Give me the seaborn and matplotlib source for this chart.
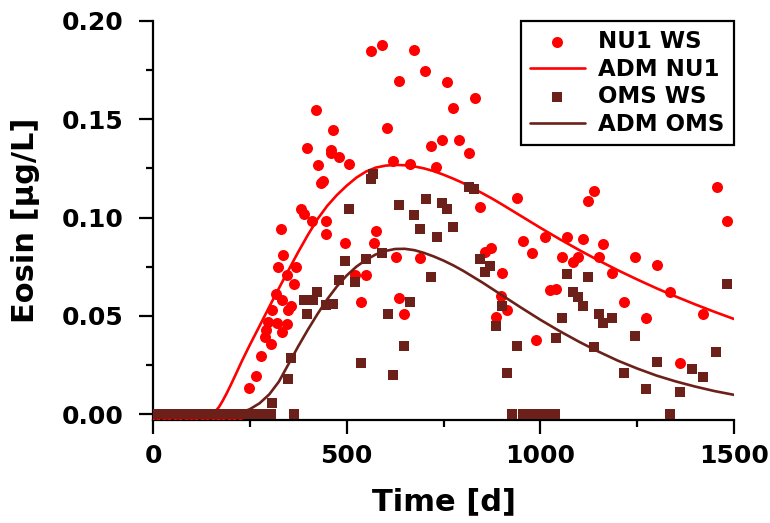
import matplotlib
matplotlib.use("Agg")
import matplotlib.pyplot as plt
import seaborn as sns
import pandas as pd
from matplotlib.ticker import MultipleLocator, FormatStrFormatter

# ---------------- data ----------------
nu1_days = [0, 14, 28, 42, 56, 70, 84, 98, 112, 126, 140, 154, 168, 182, 196, 210, 224,
            564, 591, 675, 635, 703, 758, 831, 774, 789, 817, 420, 466, 398, 460, 459, 480,
            507, 425, 605, 620, 663, 719, 746, 731, 434, 440, 381, 390, 411, 447, 447, 330,
            496, 577, 571, 844, 941, 1138, 1124, 1455, 1483, 335, 322, 368, 345, 364, 317,
            332, 306, 355, 349, 297, 319, 346, 293, 332, 289, 304, 278, 265, 248, 627, 690,
            522, 549, 536, 635, 648, 857, 873, 956, 978, 1012, 1068, 1109, 1161, 1055, 1085,
            1096, 1152, 1245, 1300, 1186, 901, 1025, 1041, 899, 915, 885, 1217, 1273, 1335,
            1421, 990, 1360]
nu1_vals = [0, 0, 0, 0, 0, 0, 0, 0, 0, 0, 0, 0, 0, 0, 0, 0, 0,
            0.1849, 0.1880, 0.1850, 0.1697, 0.1747, 0.1689, 0.1606, 0.1556, 0.1394, 0.1326,
            0.1546, 0.1446, 0.1355, 0.1346, 0.1326, 0.1307, 0.1275, 0.1265, 0.1456, 0.1287,
            0.1275, 0.1365, 0.1397, 0.1256, 0.1175, 0.1185, 0.1045, 0.1017, 0.0983, 0.0983,
            0.0914, 0.0941, 0.0871, 0.0932, 0.0871, 0.1052, 0.1102, 0.1134, 0.1082, 0.1155,
            0.0982, 0.0812, 0.0749, 0.0749, 0.0709, 0.0660, 0.0609, 0.0583, 0.0531, 0.0549,
            0.0529, 0.0469, 0.0464, 0.0456, 0.0427, 0.0419, 0.0393, 0.0356, 0.0297, 0.0195,
            0.0134, 0.0800, 0.0792, 0.0707, 0.0709, 0.0570, 0.0590, 0.0509, 0.0826, 0.0843,
            0.0881, 0.0822, 0.0902, 0.0902, 0.0890, 0.0863, 0.0800, 0.0772, 0.0800, 0.0800,
            0.0800, 0.0759, 0.0719, 0.0719, 0.0631, 0.0639, 0.0600, 0.0529, 0.0492, 0.0568,
            0.0490, 0.0622, 0.0509, 0.0376, 0.0258]

oms_days = [0, 14, 28, 42, 56, 70, 84, 98, 112, 126, 140, 154, 168, 182, 196, 210, 224,
            238, 252, 266, 285, 300, 305, 364, 927, 955, 978, 999, 1020, 1038, 1335,
            569, 564, 507, 636, 705, 675, 746, 759, 816, 830, 690, 732, 774, 496, 549, 591,
            480, 522, 719, 424, 391, 414, 447, 465, 397, 606, 663, 356, 348, 648, 536, 620,
            306, 844, 870, 858, 1068, 1124, 1085, 1098, 1111, 901, 1152, 1161, 1186, 1056,
            885, 1040, 1139, 1245, 941, 915, 1217, 1300, 1273, 1360, 1391, 1421, 1453, 1483]
oms_vals = [0, 0, 0, 0, 0, 0, 0, 0, 0, 0, 0, 0, 0, 0, 0, 0, 0,
            0, 0, 0, 0, 0, 0, 0, 0, 0, 0, 0, 0, 0, 0,
            0.1224, 0.1197, 0.1044, 0.1062, 0.1092, 0.1012, 0.1075, 0.1043, 0.1155, 0.1144,
            0.0941, 0.0901, 0.0951, 0.0780, 0.0788, 0.0822, 0.0680, 0.0671, 0.0698, 0.0619,
            0.0580, 0.0580, 0.0553, 0.0560, 0.0509, 0.0509, 0.0570, 0.0286, 0.0177, 0.0347,
            0.0258, 0.0198, 0.0057, 0.0791, 0.0751, 0.0721, 0.0711, 0.0698, 0.0621, 0.0597,
            0.0549, 0.0549, 0.0509, 0.0466, 0.0490, 0.0490, 0.0448, 0.0388, 0.0339, 0.0397,
            0.0346, 0.0207, 0.0207, 0.0266, 0.0126, 0.0113, 0.0227, 0.0187, 0.0317, 0.0660]

adm_nu1_days = [0, 50, 100, 150, 160, 170, 180, 190, 200, 215, 230, 250, 275, 300, 325,
                350, 375, 400, 425, 450, 475, 500, 525, 550, 575, 600, 625, 650, 675, 700,
                725, 750, 775, 800, 825, 850, 875, 900, 925, 950, 975, 1000, 1050, 1100,
                1150, 1200, 1250, 1300, 1350, 1400, 1450, 1500]
adm_nu1_vals = [0, 0, 0, 0, 0.0012, 0.0035, 0.0068, 0.0105, 0.0145, 0.0208, 0.0272, 0.0352,
                0.0448, 0.0545, 0.0640, 0.0733, 0.0825, 0.0912, 0.0993, 0.1060, 0.1115,
                0.1162, 0.1203, 0.1234, 0.1254, 0.1264, 0.1268, 0.1266, 0.1260, 0.1250,
                0.1236, 0.1218, 0.1198, 0.1176, 0.1150, 0.1124, 0.1097, 0.1068, 0.1038,
                0.1008, 0.0978, 0.0948, 0.0890, 0.0835, 0.0782, 0.0732, 0.0685, 0.0640,
                0.0598, 0.0558, 0.0520, 0.0484]

adm_oms_days = [0, 50, 100, 150, 200, 215, 230, 250, 275, 300, 325, 350, 375, 400, 425,
                450, 475, 500, 525, 550, 575, 600, 625, 650, 675, 700, 725, 750, 775, 800,
                850, 900, 950, 1000, 1050, 1100, 1150, 1200, 1250, 1300, 1350, 1400, 1450,
                1500]
adm_oms_vals = [0, 0, 0, 0, 0, 0.0003, 0.001, 0.0025, 0.0055, 0.0100, 0.0165, 0.0255,
                0.0345, 0.0430, 0.0510, 0.0585, 0.0650, 0.0705, 0.0750, 0.0785, 0.0812,
                0.0830, 0.0840, 0.0841, 0.0834, 0.0820, 0.0802, 0.0781, 0.0757, 0.0730,
                0.0670, 0.0606, 0.0542, 0.0480, 0.0422, 0.0368, 0.0318, 0.0272, 0.0232,
                0.0196, 0.0166, 0.0140, 0.0117, 0.0098]

labels = ["NU1 WS", "ADM NU1", "OMS WS", "ADM OMS"]

# ---------------- style ----------------
sns.set_style("ticks")
plt.rcParams["font.family"] = ["DejaVu Sans"]
plt.rcParams["font.weight"] = "bold"
plt.rcParams["axes.labelweight"] = "bold"
plt.rcParams["axes.labelcolor"] = "black"
plt.rcParams["text.color"] = "black"

RED = "#FF0000"
BROWN = "#6B2119"

fig = plt.figure(figsize=(7.7, 5.23), dpi=100)
ax = fig.add_axes([153 / 770, 1 - 420 / 523, (734 - 153) / 770, (420 - 21) / 523])

df_nu1 = pd.DataFrame({"t": nu1_days, "c": nu1_vals})
df_oms = pd.DataFrame({"t": oms_days, "c": oms_vals})
df_adm_nu1 = pd.DataFrame({"t": adm_nu1_days, "c": adm_nu1_vals})
df_adm_oms = pd.DataFrame({"t": adm_oms_days, "c": adm_oms_vals})

sns.scatterplot(data=df_nu1, x="t", y="c", ax=ax, marker="o", s=63, color=RED,
                linewidth=0, label=labels[0], zorder=3)
sns.lineplot(data=df_adm_nu1, x="t", y="c", ax=ax, color=RED, linewidth=1.9,
             label=labels[1], zorder=4, estimator=None, sort=False)
sns.scatterplot(data=df_oms, x="t", y="c", ax=ax, marker="s", s=52, color=BROWN,
                linewidth=0, label=labels[2], zorder=5)
sns.lineplot(data=df_adm_oms, x="t", y="c", ax=ax, color=BROWN, linewidth=1.9,
             label=labels[3], zorder=6, estimator=None, sort=False)

ax.set_xlim(0, 1500)
ax.set_ylim(-0.003, 0.2)
ax.xaxis.set_major_locator(MultipleLocator(500))
ax.xaxis.set_minor_locator(MultipleLocator(250))
ax.yaxis.set_major_locator(MultipleLocator(0.05))
ax.yaxis.set_minor_locator(MultipleLocator(0.025))
ax.yaxis.set_major_formatter(FormatStrFormatter("%.2f"))

for s in ["top", "right"]:
    ax.spines[s].set_visible(False)
for s in ["left", "bottom"]:
    ax.spines[s].set_linewidth(1.6)
    ax.spines[s].set_color("black")

ax.tick_params(axis="both", which="major", length=10, width=1.6, direction="out",
               labelsize=18, color="black", labelcolor="black")
ax.tick_params(axis="both", which="minor", length=5, width=1.6, direction="out", color="black")
ax.tick_params(axis="y", which="major", pad=11)
ax.tick_params(axis="x", which="major", pad=7)
for lab in ax.get_xticklabels() + ax.get_yticklabels():
    lab.set_fontweight("bold")

ax.set_xlabel("Time [d]", fontsize=22, fontweight="bold", labelpad=14, color="black")
ax.set_ylabel("Eosin [µg/L]", fontsize=22, fontweight="bold", labelpad=16, color="black")

handles, labs = ax.get_legend_handles_labels()
order = [labs.index(l) for l in labels]
leg = ax.legend([handles[i] for i in order], [labs[i] for i in order],
                loc="upper right", bbox_to_anchor=(1.0, 1.0), borderaxespad=0.0,
                prop={"weight": "bold", "size": 16.5},
                frameon=True, fancybox=False, framealpha=1, edgecolor="black",
                handlelength=2.4, handletextpad=0.6, labelspacing=0.2, borderpad=0.4)
leg.get_frame().set_linewidth(1.6)
for t in leg.get_texts():
    t.set_color("black")

fig.savefig("out.png", dpi=100)
